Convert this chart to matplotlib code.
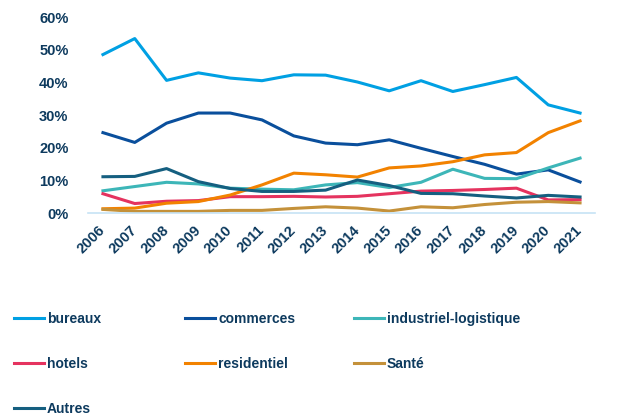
import matplotlib
matplotlib.use("Agg")
import matplotlib.pyplot as plt
from matplotlib.ticker import FuncFormatter

# Share of investment by asset class (%), 2006-2021
years = ["2006", "2007", "2008", "2009", "2010", "2011", "2012", "2013",
         "2014", "2015", "2016", "2017", "2018", "2019", "2020", "2021"]
bureaux = [48.5, 53.4, 40.6, 42.9, 41.3, 40.5, 42.3, 42.2, 40.1, 37.4, 40.5, 37.2, 39.3, 41.5, 33.1, 30.6]
commerces = [24.6, 21.6, 27.5, 30.6, 30.6, 28.5, 23.6, 21.4, 20.9, 22.4, 19.8, 17.3, 14.9, 11.9, 13.2, 9.5]
industriel = [6.8, 8.1, 9.4, 8.9, 7.6, 7.3, 7.1, 8.6, 9.3, 7.8, 9.4, 13.4, 10.6, 10.5, 13.8, 16.8]
hotels = [5.9, 2.9, 3.6, 3.8, 5.0, 5.0, 5.1, 4.9, 5.1, 5.9, 6.7, 6.9, 7.2, 7.6, 4.0, 4.1]
residentiel = [1.3, 1.5, 3.0, 3.5, 5.5, 8.6, 12.2, 11.7, 11.0, 13.8, 14.4, 15.7, 17.8, 18.5, 24.6, 28.2]
sante = [1.1, 0.5, 0.5, 0.5, 0.8, 0.8, 1.4, 1.9, 1.5, 0.6, 1.9, 1.6, 2.6, 3.3, 3.5, 3.1]
autres = [11.1, 11.2, 13.6, 9.6, 7.5, 6.6, 6.6, 7.0, 10.1, 8.4, 6.0, 5.9, 5.2, 4.6, 5.4, 4.9]

series = [
    ("bureaux", bureaux, "#00a0e3"),
    ("commerces", commerces, "#0a4f9c"),
    ("industriel-logistique", industriel, "#3db6b8"),
    ("hotels", hotels, "#e5335f"),
    ("residentiel", residentiel, "#f28200"),
    ("Santé", sante, "#c4913a"),
    ("Autres", autres, "#155f80"),
]

text_color = "#0d3a5e"
plt.rcParams["font.family"] = ["Liberation Sans Narrow", "Liberation Sans", "DejaVu Sans"]
plt.rcParams["font.weight"] = "bold"
tick_font = ["Liberation Sans", "DejaVu Sans"]

fig = plt.figure(figsize=(6.23, 4.19), dpi=100)
ax = fig.add_axes([88 / 623, 1 - 213 / 419, (595 - 88) / 623, (213 - 17) / 419])

x = list(range(len(years)))
handles = {}
for name, vals, color in series:
    line, = ax.plot(x, vals, color=color, linewidth=2.2, label=name, solid_joinstyle="round")
    handles[name] = line

ax.set_xlim(-0.47, len(years) - 0.53)
ax.set_ylim(0, 60)
ax.set_yticks([0, 10, 20, 30, 40, 50, 60])
ax.yaxis.set_major_formatter(FuncFormatter(lambda v, p: f"{int(v)}%"))
ax.set_xticks(x)
ax.set_xticklabels(years, rotation=45, ha="right", va="center", rotation_mode="anchor")

for lab in ax.get_xticklabels() + ax.get_yticklabels():
    lab.set_family(tick_font)
    lab.set_fontsize(10.5)

for s in ["top", "right", "left"]:
    ax.spines[s].set_visible(False)
ax.spines["bottom"].set_color("#c6e3f5")
ax.spines["bottom"].set_linewidth(1.2)
ax.tick_params(axis="y", length=0, pad=14, labelcolor=text_color)
ax.tick_params(axis="x", length=0, pad=11, labelcolor=text_color)

# legend in three columns, as separate legends to place each column
columns = [
    (["bureaux", "hotels", "Autres"], 4 / 623),
    (["commerces", "residentiel"], 175 / 623),
    (["industriel-logistique", "Santé"], 344 / 623),
]
for names, xpos in columns:
    leg = fig.legend([handles[n] for n in names], names, loc="upper left",
                     bbox_to_anchor=(xpos, 1 - 302 / 419), frameon=False,
                     fontsize=10, handlelength=2.2, handletextpad=0.2,
                     labelspacing=2.25, borderpad=0.2)
    for t in leg.get_texts():
        t.set_color(text_color)

fig.savefig("out.png", dpi=100)
